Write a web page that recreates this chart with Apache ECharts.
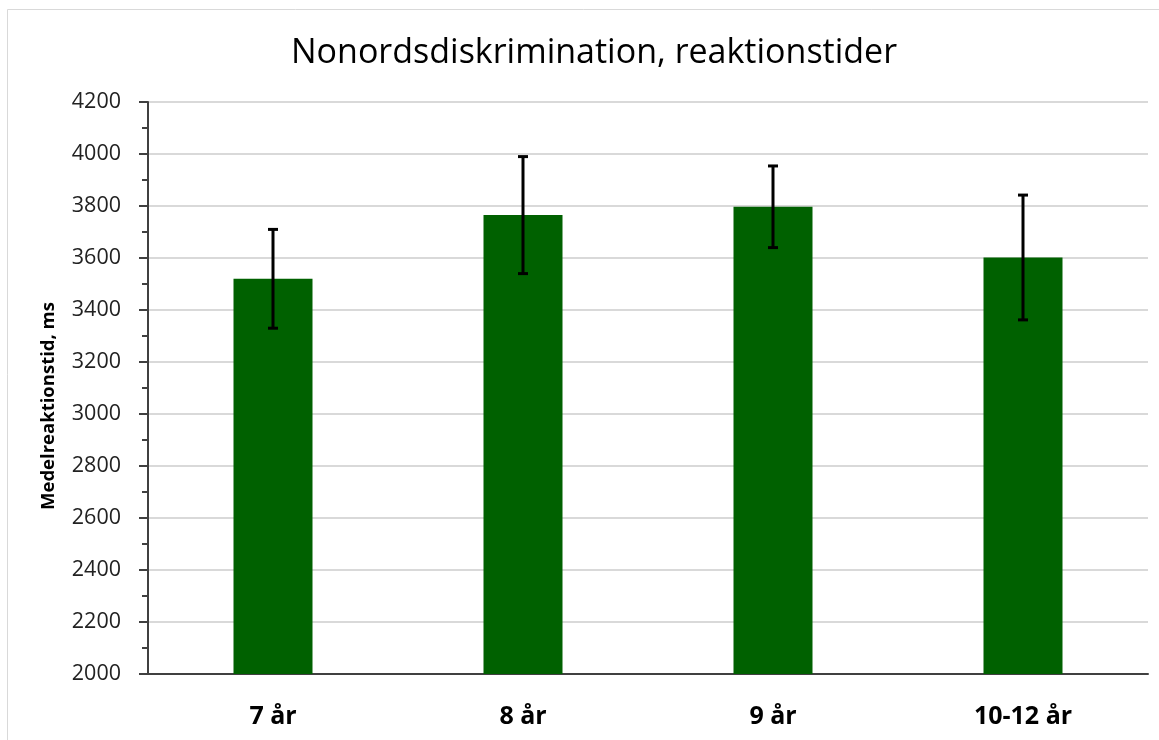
<!DOCTYPE html>
<html>
<head>
<meta charset="utf-8">
<script src="https://cdn.jsdelivr.net/npm/echarts@6/dist/echarts.min.js"></script>
<style>
  html, body { margin: 0; padding: 0; background: #fff; }
  #main { width: 1159px; height: 740px; }
</style>
</head>
<body>
<div id="main"></div>
<script>
  // data
  var categories = ['7 år', '8 år', '9 år', '10-12 år']
  var means = [3520, 3765, 3797, 3602]
  var errors = [190, 225, 157, 240]
  var yTicks = { min: 2000, max: 4200, step: 200 }

  var myChart = echarts.init(document.getElementById('main'))

  // error bar rows: [index, low, high]
  var errData = means.map(function(m, i) {
      return [i, m - errors[i], m + errors[i]]
  })

  var option = {
      animation: false,
      backgroundColor: '#fff',
      textStyle: { fontFamily: 'Open Sans' },
      title: {
          text: 'Nonordsdiskrimination, reaktionstider',
          left: 286,
          top: 31,
          textStyle: {
              fontFamily: 'Open Sans',
              fontSize: 34,
              fontWeight: 'normal',
              color: '#000'
          }
      },
      graphic: [{
          type: 'polyline',
          shape: { points: [[7.5, 740], [7.5, 9.5], [1159, 9.5]] },
          style: { stroke: '#d9d9d9', fill: null, lineWidth: 1 },
          silent: true
      }],
      grid: {
          left: 148,
          right: 11,
          top: 102,
          bottom: 66
      },
      xAxis: {
          type: 'category',
          data: categories,
          axisLine: { lineStyle: { color: '#404040', width: 2 } },
          axisTick: { show: false },
          axisLabel: {
              margin: 30,
              fontFamily: 'Open Sans',
              fontSize: 25,
              fontWeight: 'bold',
              color: '#000'
          }
      },
      yAxis: {
          type: 'value',
          min: yTicks.min,
          max: yTicks.max,
          interval: yTicks.step,
          name: 'Medelreaktionstid, ms',
          nameLocation: 'middle',
          nameGap: 90,
          nameTextStyle: {
              fontFamily: 'Open Sans',
              fontSize: 18.5,
              fontWeight: 'bold',
              color: '#000',
              padding: [0, 36, 0, 0]
          },
          axisLine: { show: true, lineStyle: { color: '#404040', width: 2 } },
          axisTick: { show: true, length: 9, lineStyle: { color: '#404040', width: 2 } },
          minorTick: { show: true, splitNumber: 2, length: 6, lineStyle: { color: '#404040', width: 2 } },
          axisLabel: {
              margin: 27,
              fontFamily: 'Open Sans',
              fontSize: 21.5,
              color: '#222',
              formatter: function(v) { return String(v) }
          },
          splitLine: { lineStyle: { color: '#d9d9d9', width: 2 } }
      },
      series: [{
          type: 'bar',
          data: means,
          barWidth: '31.6%',
          itemStyle: { color: '#006100' }
      }, {
          type: 'custom',
          data: errData,
          z: 10,
          renderItem: function(params, api) {
              var x = api.value(0)
              var lo = api.coord([x, api.value(1)])
              var hi = api.coord([x, api.value(2)])
              var half = 5
              var st = { stroke: '#000', lineWidth: 3 }
              return {
                  type: 'group',
                  children: [
                      { type: 'line', shape: { x1: hi[0], y1: hi[1], x2: lo[0], y2: lo[1] }, style: st },
                      { type: 'line', shape: { x1: hi[0] - half, y1: hi[1], x2: hi[0] + half, y2: hi[1] }, style: st },
                      { type: 'line', shape: { x1: lo[0] - half, y1: lo[1], x2: lo[0] + half, y2: lo[1] }, style: st }
                  ]
              }
          }
      }]
  }
  myChart.setOption(option)
</script>
</body>
</html>
